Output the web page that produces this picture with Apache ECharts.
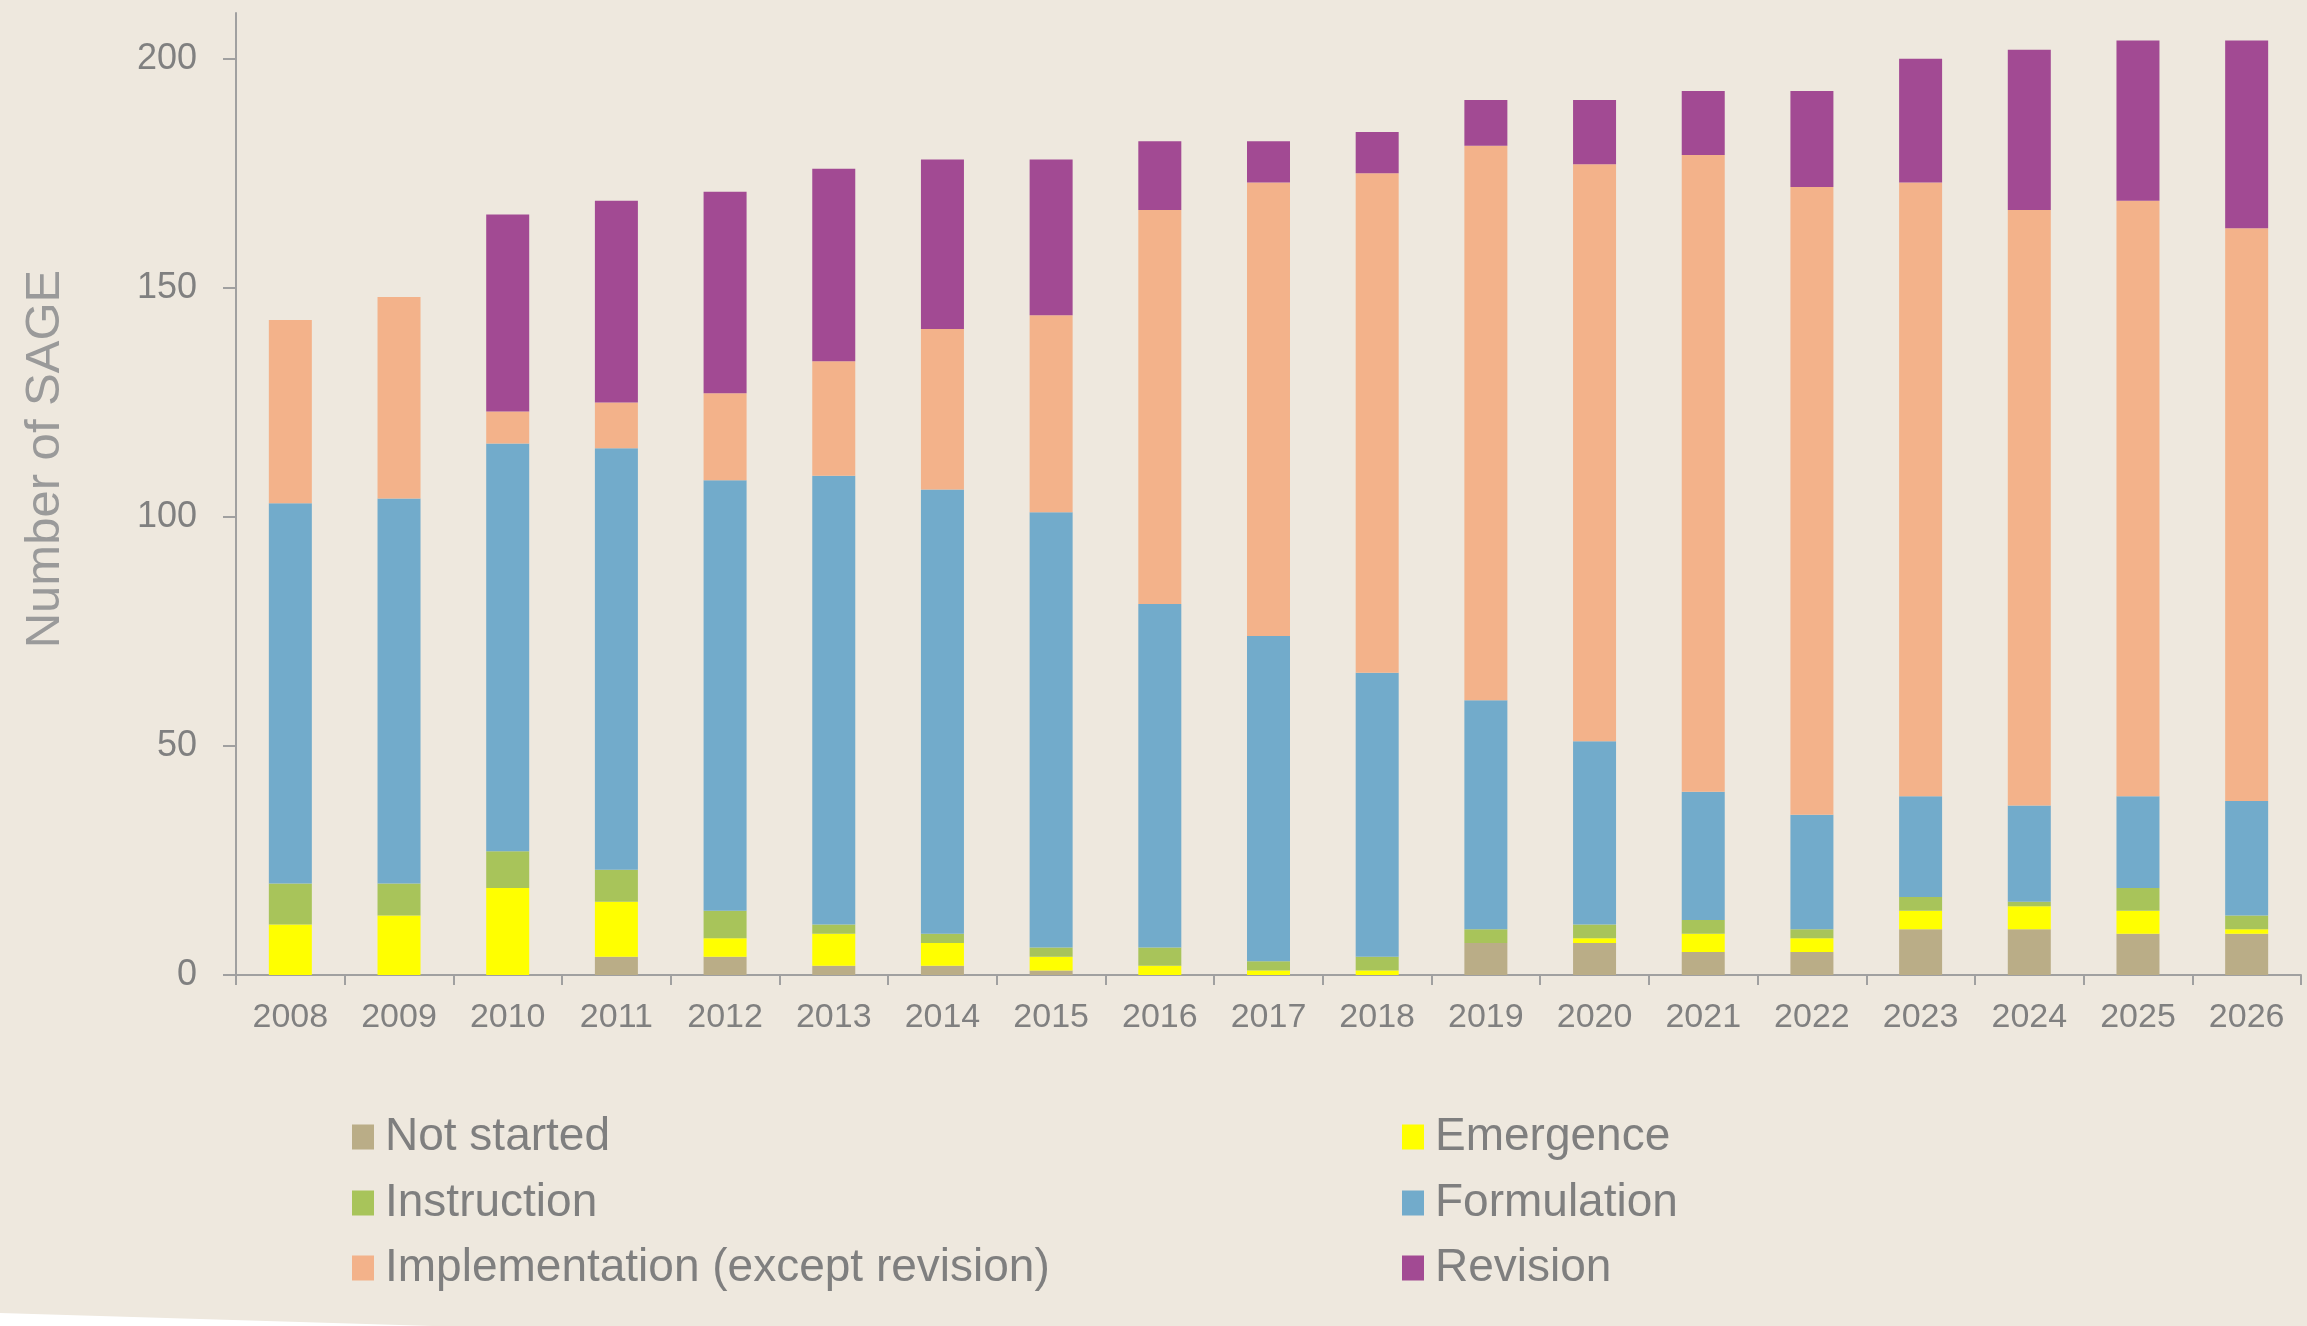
<!DOCTYPE html>
<html>
<head>
<meta charset="utf-8">
<script src="https://cdn.jsdelivr.net/npm/echarts@6/dist/echarts.min.js"></script>
<style>
html,body{margin:0;padding:0;background:#EEE8DE;}
#chart{width:2307px;height:1326px;}
</style>
</head>
<body>
<div id="chart"></div>
<script>
const years = ['2008','2009','2010','2011','2012','2013','2014','2015','2016','2017','2018','2019','2020','2021','2022','2023','2024','2025','2026'];
const notStarted     = [0,0,0,4,4,2,2,1,0,0,0,7,7,5,5,10,10,9,9];
const emergence      = [11,13,19,12,4,7,5,3,2,1,1,0,1,4,3,4,5,5,1];
const instruction    = [9,7,8,7,6,2,2,2,4,2,3,3,3,3,2,3,1,5,3];
const formulation    = [83,84,89,92,94,98,97,95,75,71,62,50,40,28,25,22,21,20,25];
const implementation = [40,44,7,10,19,25,35,43,86,99,109,121,126,139,137,134,130,130,125];
const revision       = [0,0,43,44,44,42,37,34,15,9,9,10,14,14,21,27,35,35,41];
const yTicks = [0,50,100,150,200];

const seriesNames = ['Not started','Emergence','Instruction','Formulation','Implementation (except revision)','Revision'];
const seriesData = [notStarted, emergence, instruction, formulation, implementation, revision];
const colors = ['#BAAD87','#FFFF00','#A8C45A','#72ABCB','#F3B28A','#A24A93'];

const chart = echarts.init(document.getElementById('chart'));
const font = '"Liberation Sans", Arial, sans-serif';
const legendCols = [352, 1402];
const legendRows = [1114, 1180, 1245];
const legends = seriesNames.map((n, i) => ({
  left: legendCols[i % 2],
  top: legendRows[Math.floor(i / 2)],
  data: [n],
  orient: 'horizontal',
  itemWidth: 22,
  itemHeight: 25,
  icon: 'rect',
  padding: 0,
  selectedMode: false,
  textStyle: { fontFamily: font, fontSize: 46, color: '#7F7F7F', padding: [0,0,0,6] }
}));

chart.setOption({
  backgroundColor: '#EEE8DE',
  color: colors,
  animation: false,
  graphic: [{
    type: 'polygon',
    shape: { points: [[0,1313],[433,1326],[0,1326]] },
    style: { fill: '#FFFFFF' },
    silent: true
  }],
  grid: { left: 236, right: 6, top: 13, bottom: 351, containLabel: false },
  legend: legends,
  xAxis: {
    type: 'category',
    data: years,
    boundaryGap: true,
    axisLine: { lineStyle: { color: '#A0A0A0', width: 2 } },
    axisTick: { show: true, length: 10, lineStyle: { color: '#A0A0A0', width: 2 }, alignWithLabel: false },
    axisLabel: { fontFamily: font, fontSize: 34, color: '#808080', margin: 26, interval: 0 }
  },
  yAxis: {
    type: 'value',
    min: 0, max: 210, interval: 50,
    name: 'Number of SAGE',
    nameLocation: 'middle',
    nameRotate: 90,
    nameGap: 166,
    nameTextStyle: { fontFamily: font, fontSize: 49, color: '#9A9A9A', fontWeight: 'lighter', padding: [0,0,0,70] },
    axisLine: { show: true, lineStyle: { color: '#A0A0A0', width: 2 } },
    axisTick: { show: true, length: 13, lineStyle: { color: '#A0A0A0', width: 2 }, customValues: yTicks },
    axisLabel: { fontFamily: font, fontSize: 36, color: '#808080', margin: 39, customValues: yTicks },
    splitLine: { show: false }
  },
  series: seriesNames.map((n, i) => ({
    name: n,
    type: 'bar',
    stack: 'total',
    barWidth: 43,
    data: seriesData[i],
    itemStyle: { color: colors[i] }
  }))
});
</script>
</body>
</html>
